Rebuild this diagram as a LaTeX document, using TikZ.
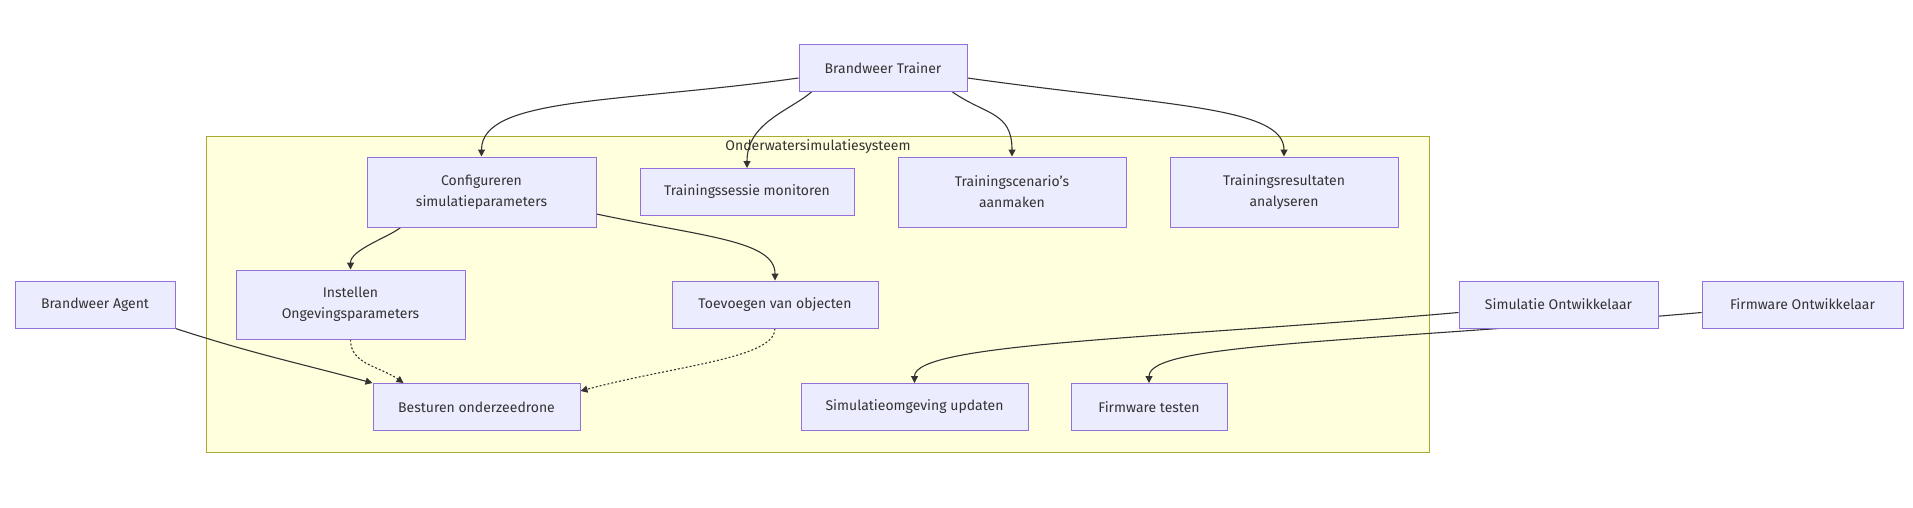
\documentclass[tikz,border=0pt]{standalone}
\usepackage{fontspec}
\setmainfont{Fira Sans}
\usepackage{tikz}
\usetikzlibrary{arrows.meta}
\usetikzlibrary{backgrounds,positioning}
\definecolor{boxfill}{HTML}{ECECFF}
\definecolor{boxline}{HTML}{9370DB}
\definecolor{sysfill}{HTML}{FFFFDE}
\definecolor{sysline}{HTML}{AAAA33}
\definecolor{ink}{HTML}{333333}
\tikzset{
    uc/.style={
        draw=boxline,
        fill=boxfill,
        line width=1pt,
        align=center,
        text=ink,
        font=\fontsize{14}{21}\selectfont,
        minimum width=#1,
        minimum height=47pt,
        inner sep=0pt
    },
    uc2/.style={
        uc=#1,
        minimum height=70pt
    },
    flow/.style={
        draw=ink,
        line width=1.1pt,
        -{Triangle[length=7pt,width=7pt]}
    },
    dep/.style={
        flow,
        dash pattern=on 2pt off 2pt
    }
}

\begin{document}
\begin{tikzpicture}[x=1pt,y=-1pt]
  \useasboundingbox (0,0) rectangle (1913,507);
  % actors
  \node[uc=168] (trainer) at (883,68) {Brandweer Trainer};
  \node[uc=160] (agent) at (95,304.5) {Brandweer Agent};
  \node[uc=199] (simdev) at (1558.5,304.5) {Simulatie Ontwikkelaar};
  \node[uc=201] (firmdev) at (1802.5,304.5) {Firmware Ontwikkelaar};
  % use cases
  \node[uc2=229] (config) at (481.5,192) {Configureren\\simulatieparameters};
  \node[uc=214] (monitor) at (747,192) {Trainingssessie monitoren};
  \node[uc2=228] (scen) at (1012,192) {Trainingscenario's\\aanmaken};
  \node[uc2=228] (results) at (1284,192) {Trainingsresultaten\\analyseren};
  \node[uc2=229,minimum height=69pt] (instel) at (350.5,304.5) {Instellen\\Ongevingsparameters};
  \node[uc=206] (toev) at (775,304.5) {Toevoegen van objecten};
  \node[uc=207] (besturen) at (476.5,407) {Besturen onderzeedrone};
  \node[uc=227] (simupd) at (914.5,407) {Simulatieomgeving updaten};
  \node[uc=156] (firmtest) at (1149,407) {Firmware testen};

  \begin{scope}[on background layer]
    \draw[fill=sysfill,draw=sysline,line width=1pt] (206,136) rectangle (1429,452);
    \node[text=ink,font=\fontsize{14}{21}\selectfont] (systitle) at (818,147) {Onderwatersimulatiesysteem};
    \draw[flow] ([yshift=-10pt]trainer.west) to[out=188,in=90,out distance=180pt,in distance=60pt] (config.north);
    \draw[flow] ([xshift=13pt]trainer.south west) to[out=220,in=90,out distance=30pt,in distance=45pt] (monitor.north);
    \draw[flow] ([xshift=-15pt]trainer.south east) to[out=-35,in=90,out distance=40pt,in distance=45pt] (scen.north);
    \draw[flow] ([yshift=-10pt]trainer.east) to[out=-8,in=90,out distance=200pt,in distance=50pt] (results.north);
    \draw[flow] ([xshift=34pt]config.south west) to[out=-140,in=90,out distance=15pt,in distance=20pt] (instel.north);
    \draw[flow] ([yshift=-22pt]config.east) to[out=-12,in=90,out distance=110pt,in distance=40pt] (toev.north);
    \draw[dep] (instel.south) to[out=-90,in=145,out distance=25pt,in distance=30pt] ([xshift=31pt]besturen.north west);
    \draw[dep] (toev.south) to[out=-90,in=15,out distance=30pt,in distance=100pt] ([yshift=-8pt]besturen.north east);
    \draw[flow] (agent.south east) to[out=-18,in=165] (besturen.north west);
    \draw[flow] ([yshift=-8pt]simdev.west) to[out=185,in=90,out distance=300pt,in distance=40pt] (simupd.north);
    \draw[flow] ([yshift=-8pt]firmdev.west) to[out=185,in=90,out distance=350pt,in distance=40pt] (firmtest.north);
  \end{scope}
\end{tikzpicture}
\end{document}
